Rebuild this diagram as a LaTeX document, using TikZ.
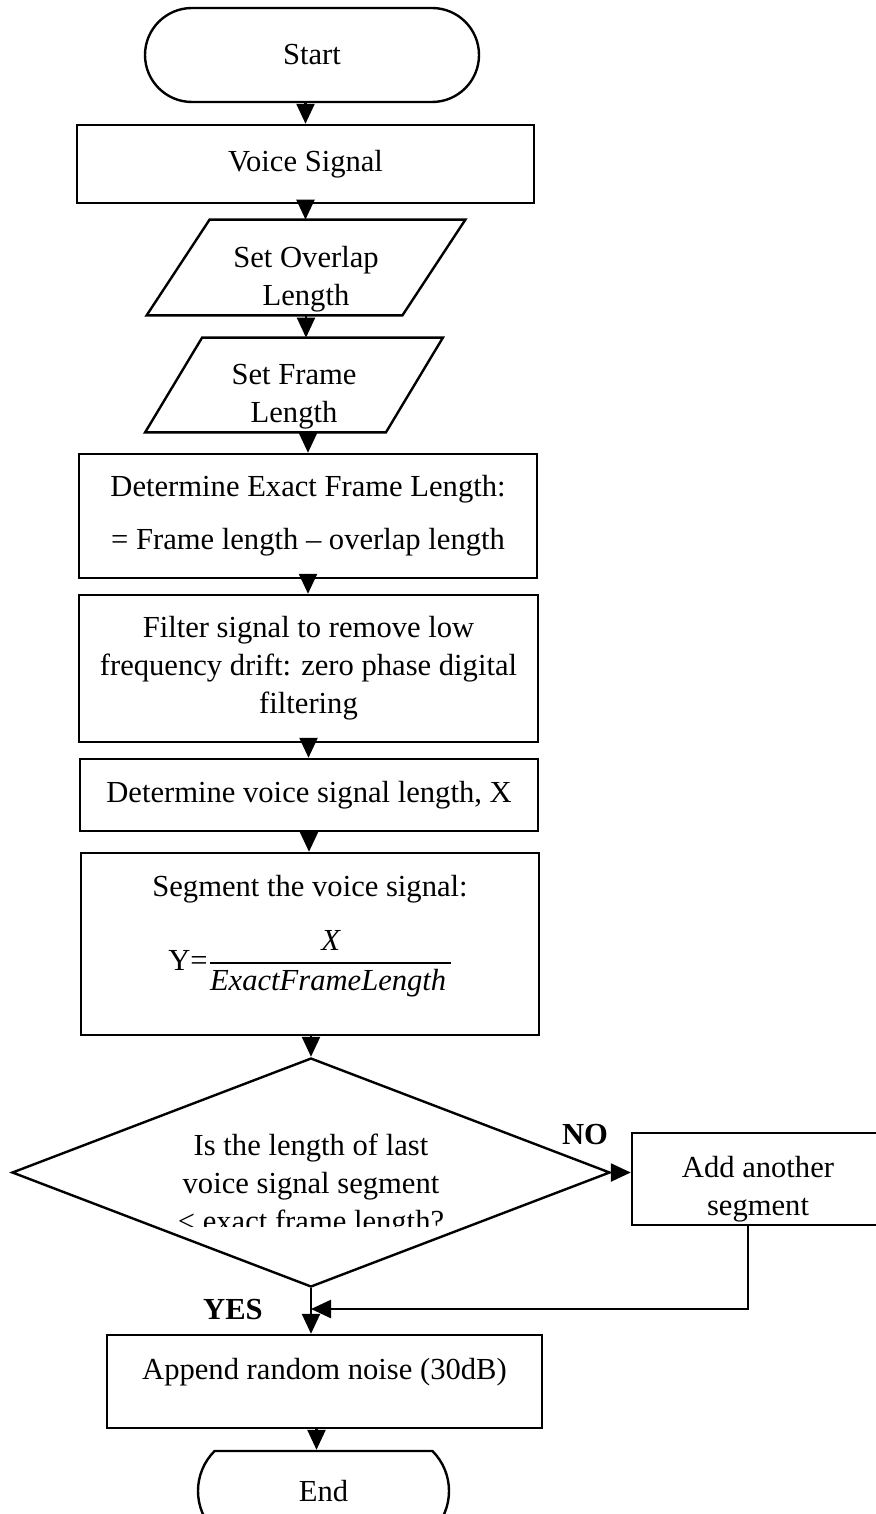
\documentclass[tikz,border=0pt]{standalone}
\usepackage{fontspec}
\setmainfont{Liberation Serif}
\usetikzlibrary{shapes.geometric,shapes.misc,arrows.meta}

\begin{document}
\begin{tikzpicture}[x=0.5pt,y=-0.5pt,
  every node/.style={font=\fontsize{15.3}{19}\selectfont},
  box/.style={draw, line width=1.2pt, rectangle, inner sep=0pt, align=center},
  term/.style={draw, line width=1.2pt, rounded rectangle, inner sep=0pt},
  holder/.style={rectangle, inner sep=0pt},
  txt/.style={inner sep=0pt, align=center},
  slant/.style={line width=1.2pt, line join=miter},
  flow/.style={line width=1.2pt, -{Triangle[width=9pt,length=10pt]}},
  lbl/.style={inner sep=0pt, font=\fontsize{15.3}{19}\selectfont\bfseries}
]
\useasboundingbox (0,0) rectangle (876,1514);

% terminator
\node[term, minimum width=167pt, minimum height=47pt] (start) at (312,55) {Start};

% input
\node[box, minimum width=228.5pt, minimum height=39pt] (voice) at (305.5,164) {Voice Signal};

% parameter blocks (parallelograms drawn round invisible holders)
\node[holder, minimum width=127.5pt, minimum height=47.5pt] (ovl) at (306,267.5) {};
\draw[slant] ([xshift=15.75pt]ovl.north west) -- ([xshift=15.75pt]ovl.north east)
  -- ([xshift=-15.75pt]ovl.south east) -- ([xshift=-15.75pt]ovl.south west) -- cycle;
\node[txt] (ovlt) at (306,279) {Set Overlap\\Length};

\node[holder, minimum width=120pt, minimum height=47pt] (frm) at (294,385) {};
\draw[slant] ([xshift=14.25pt]frm.north west) -- ([xshift=14.25pt]frm.north east)
  -- ([xshift=-14.25pt]frm.south east) -- ([xshift=-14.25pt]frm.south west) -- cycle;
\node[txt] (frmt) at (294,397) {Set Frame\\Length};

% processing steps
\node[box, minimum width=229pt, minimum height=62pt] (exact) at (308,516)
  {Determine Exact Frame Length:\\[7.5pt]= Frame length \textendash{} overlap length};
\node[box, minimum width=229.5pt, minimum height=73.5pt] (filt) at (308.5,668.5)
  {Filter signal to remove low\\frequency drift: zero phase digital\\filtering};
\node[box, minimum width=229pt, minimum height=36pt] (vlen) at (309,795)
  {Determine voice signal length, X};

\node[box, minimum width=229pt, minimum height=91pt] (seg) at (310,944) {};
\node[txt] (segt) at (310,889) {Segment the voice signal:};
\node[txt] (segf) at (311,964)
  {Y=$\displaystyle{\textit{X}\above 0.9pt \textit{ExactFrameLength\,}}$};

% decision
\node[draw, diamond, line width=1.2pt, inner sep=0pt,
      minimum width=299pt, minimum height=114.5pt] (dec) at (311,1172.5) {};
\begin{scope}
  \clip (0,1100) rectangle (876,1226);
  \node[txt] (dect) at (311,1186) {Is the length of last\\voice signal segment\\< exact frame length?};
\end{scope}

\node[box, minimum width=126pt, minimum height=46pt] (add) at (758,1179) {};
\node[txt] (addt) at (758,1189) {Add another\\segment};

\node[box, minimum width=217.5pt, minimum height=46.5pt] (app) at (324.5,1381.5) {};
\node[txt] (appt) at (324.5,1372) {Append random noise (30dB)};

\node[term, rounded rectangle arc length=90, minimum width=125.5pt, minimum height=40pt] (end) at (323.5,1491) {End};

% branch labels
\node[lbl] (no) at (585,1135) {NO};
\node[lbl] (yes) at (233,1310) {YES};

% connectors
\draw[flow] (voice.north |- start.south) -- (voice.north);
\draw[flow] (voice.south) -- (voice.south |- ovl.north);
\draw[flow] (ovl.south) -- (ovl.south |- frm.north);
\draw[flow] (exact.north |- frm.south) -- (exact.north);
\draw[flow] (exact.south) -- (exact.south |- filt.north);
\draw[flow] (filt.south) -- (filt.south |- vlen.north);
\draw[flow] (vlen.south) -- (vlen.south |- seg.north);
\draw[flow] (dec.north |- seg.south) -- (dec.north);
\draw[flow] (dec.south) -- (dec.south |- app.north);
\draw[flow] (dec.east) -- (dec.east -| add.west);
\coordinate (mrg) at (311,1309);
\draw[flow] ([xshift=-5pt]add.south) |- (mrg);
\draw[flow] ([xshift=-4pt]app.south) -- ([xshift=-4pt]app.south |- end.north);
\end{tikzpicture}
\end{document}
